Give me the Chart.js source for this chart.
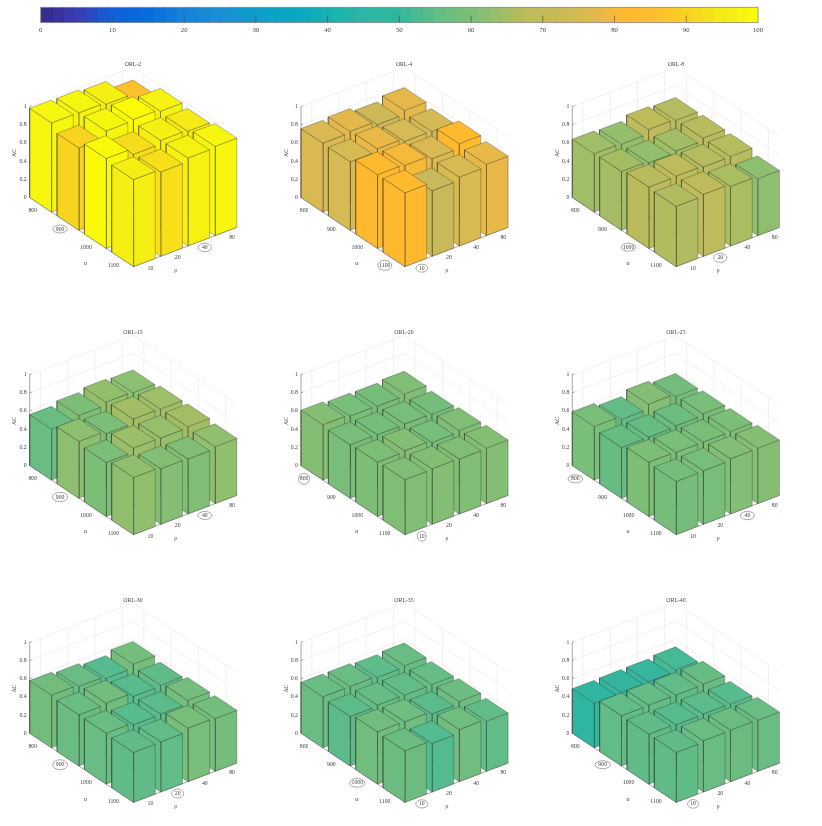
<!DOCTYPE html>
<html><head><meta charset="utf-8">
<style>
html,body{margin:0;padding:0;background:#fff;width:822px;height:826px;overflow:hidden}
canvas{position:absolute;display:block}
</style>
<script src="https://cdn.jsdelivr.net/npm/chart.js@4/dist/chart.umd.min.js"></script>
</head><body>
<script>
// ---- data (rows: alpha, columns: rho) ----
const alphaLabels = ["800","900","1000","1100"];
const rhoLabels   = ["10","20","40","80"];
const zTicks      = [0,0.2,0.4,0.6,0.8,1];
const barTicks    = [0,10,20,30,40,50,60,70,80,90,100];
const panelNames  = ["ORL-2","ORL-4","ORL-8","ORL-15","ORL-20","ORL-25","ORL-30","ORL-35","ORL-40"];

const orl2  = [[.98,.977,.958,.86],[.905,.978,.99,.967],[.988,.92,.96,.947],[.956,.927,.966,.98]];
const orl4  = [[.758,.773,.733,.777],[.753,.782,.749,.745],[.81,.799,.758,.81],[.811,.72,.756,.782]];
const orl8  = [[.641,.632,.681,.667],[.646,.628,.643,.672],[.674,.68,.667,.67],[.662,.68,.654,.625]];
const orl15 = [[.56,.597,.63,.62],[.625,.595,.643,.64],[.593,.637,.634,.645],[.628,.61,.603,.626]];
const orl20 = [[.608,.59,.586,.604],[.588,.584,.588,.584],[.597,.608,.585,.604],[.603,.61,.603,.609]];
const orl25 = [[.59,.553,.608,.579],[.559,.559,.569,.588],[.597,.59,.589,.594],[.584,.588,.606,.609]];
const orl30 = [[.579,.56,.535,.578],[.562,.577,.537,.548],[.56,.538,.542,.58],[.548,.551,.588,.58]];
const orl35 = [[.56,.56,.546,.56],[.544,.555,.551,.555],[.575,.571,.543,.568],[.566,.533,.573,.551]];
const orl40 = [[.49,.495,.498,.518],[.551,.555,.551,.559],[.549,.538,.543,.538],[.548,.562,.566,.561]];
const panelValues = [orl2,orl4,orl8,orl15,orl20,orl25,orl30,orl35,orl40];

// circled labels: alpha index, rho index
const circledAlpha = [1,3,2,1,0,0,1,2,1];
const circledRho   = [2,0,1,2,0,2,1,0,0];
// ellipse sizes in px: alpha w,h, rho w,h
const circleSizes = [[14.7,8,13.3,8.3],[14,10,11.7,8],[14.7,8,13.3,9],[15.3,9.3,14,8],[11,11,9,10],[14.7,8,14,8.3],[14.7,10,12,9],[15.3,8.7,12,8.3],[15.3,8,11,8.7]];

// colour map (value, colour)
const cmapStops = [[0,'#352a87'],[.05,'#3a3db0'],[.10,'#1060dc'],[.15,'#0a6ae0'],[.20,'#1a82d8'],[.25,'#1a90d2'],[.30,'#0c9ec8'],[.35,'#08a8c0'],[.40,'#14b2b2'],[.45,'#2cb6a2'],[.49,'#30b5a0'],[.52,'#48b994'],[.54,'#5abb8c'],[.56,'#68bc84'],[.58,'#74bd7c'],[.60,'#7ebe76'],[.625,'#8ebf70'],[.65,'#a8bd62'],[.68,'#bebb5c'],[.72,'#c8b95a'],[.75,'#d5ba55'],[.78,'#e6b84a'],[.81,'#ffb92e'],[.86,'#ffc030'],[.905,'#f8d420'],[.95,'#f5ec14'],[.98,'#f6f60e'],[1,'#ffff00']];

// ---- rendering settings ----
const SERIF = "'Liberation Serif','Times New Roman',serif";
const FS = 5.8, TXT = '#444';
const colLeft = [3,274,546], rowTop = [61,329,597];
const anchorX = [26.7,27,26.3], anchorY = [129.6,129.6,129.3];
const CW = 260, CH = 216, TITLE_H = FS*1.2;
const A0=.6, A1=4.4;
function proj(a,r,z){return {x:(a-A0)*27.33+(r-A0)*27.17, y:-(a-A0)*18.17+(r-A0)*10.33+z*91};}

function hex(c){return [1,3,5].map(i=>parseInt(c.substr(i,2),16));}
function colormap(v){
  v=Math.max(0,Math.min(1,v));
  for(let k=1;k<cmapStops.length;k++){
    if(v<=cmapStops[k][0]){
      const [v0,c0]=cmapStops[k-1],[v1,c1]=cmapStops[k];
      const t=(v-v0)/(v1-v0),p=hex(c0),q=hex(c1);
      return 'rgb('+p.map((x,i)=>Math.round(x+(q[i]-x)*t)).join(',')+')';
    }
  }
  return cmapStops[cmapStops.length-1][1];
}
function line(pts,color,w){
  return {data:pts,showLine:true,fill:false,borderColor:color,borderWidth:w,pointRadius:0,tension:0,clip:false};
}
function face(pts,color){
  return {data:pts.concat([pts[0]]),showLine:true,fill:'shape',backgroundColor:color,borderColor:'rgba(40,40,30,.52)',borderWidth:.6,borderJoinStyle:'miter',pointRadius:0,tension:0,clip:false};
}
function buildDatasets(values){
  const ds=[]; const G='#e7e7e7', GW=.6, AX='#6a6a6a';
  const ints=[1,2,3,4];
  // back walls and floor grid
  zTicks.forEach(z=>{
    ds.push(line([proj(A0,A0,z),proj(A0,A1,z)],G,GW));
    ds.push(line([proj(A0,A1,z),proj(A1,A1,z)],G,GW));
  });
  ints.forEach(r=>{
    ds.push(line([proj(A0,r,0),proj(A0,r,1)],G,GW));
    ds.push(line([proj(A0,r,0),proj(A1,r,0)],G,GW));
  });
  ints.forEach(a=>{
    ds.push(line([proj(a,A1,0),proj(a,A1,1)],G,GW));
    ds.push(line([proj(a,A0,0),proj(a,A1,0)],G,GW));
  });
  // axes and tick marks
  ds.push(line([proj(A0,A0,0),proj(A0,A0,1)],AX,.6));
  ds.push(line([proj(A0,A0,0),proj(A1,A0,0)],AX,.6));
  ds.push(line([proj(A1,A0,0),proj(A1,A1,0)],AX,.6));
  zTicks.forEach(z=>ds.push(line([proj(A0,A0,z),proj(A0,A0+.07,z)],AX,.6)));
  ints.forEach(a=>ds.push(line([proj(a,A0,0),proj(a,A0+.07,0)],AX,.6)));
  ints.forEach(r=>ds.push(line([proj(A1,r,0),proj(A1-.07,r,0)],AX,.6)));
  // bars, far to near
  for(let i=0;i<4;i++){
    for(let j=3;j>=0;j--){
      const h=values[i][j], c=colormap(h);
      const a0=i+.6,a1=i+1.4,r0=j+.6,r1=j+1.4;
      ds.push(face([proj(a1,r0,0),proj(a1,r1,0),proj(a1,r1,h),proj(a1,r0,h)],c));
      ds.push(face([proj(a0,r0,0),proj(a1,r0,0),proj(a1,r0,h),proj(a0,r0,h)],c));
      ds.push(face([proj(a0,r0,h),proj(a1,r0,h),proj(a1,r1,h),proj(a0,r1,h)],c));
    }
  }
  return ds.reverse(); // Chart.js paints the first dataset last
}
function labelPlugin(p){
  return {id:'labels'+p,afterDatasetsDraw(chart){
    const c=chart.ctx, X=chart.scales.x, Y=chart.scales.y;
    const px=q=>[X.getPixelForValue(q.x),Y.getPixelForValue(q.y)];
    c.save();
    c.fillStyle=TXT; c.font=FS+'px '+SERIF; c.textBaseline='middle';
    c.textAlign='right';
    zTicks.forEach(z=>{const [x,y]=px(proj(A0,A0,z)); c.fillText(String(z),x-3,y);});
    const ell=(cx,cy,w,h)=>{c.beginPath();c.ellipse(cx,cy,w/2,h/2,0,0,2*Math.PI);c.strokeStyle='#555';c.lineWidth=.5;c.stroke();};
    const S=circleSizes[p];
    alphaLabels.forEach((t,i)=>{
      const [x,y]=px(proj(i+1,A0,0)); const tx=x-3.5, ty=y+6;
      c.textAlign='right'; c.fillText(t,tx,ty);
      if(circledAlpha[p]===i) ell(tx-c.measureText(t).width/2,ty,S[0],S[1]);
    });
    rhoLabels.forEach((t,j)=>{
      const [x,y]=px(proj(A1,j+1,0)); const tx=x+3.2, ty=y+5.7;
      c.textAlign='left'; c.fillText(t,tx,ty);
      if(circledRho[p]===j) ell(tx+c.measureText(t).width/2,ty,S[2],S[3]);
    });
    const [lx,ly]=px(proj(A0,A0,0));
    c.textAlign='center';
    c.fillText('\u03b1',lx+55.7,ly+66);
    c.fillText('\u03c1',lx+146,ly+73.3);
    c.translate(lx-15,ly-44.7); c.rotate(-Math.PI/2);
    c.fillText('AC',0,0);
    c.restore();
  }};
}
function addCanvas(l,t,w,h){
  const cv=document.createElement('canvas');
  cv.width=w;cv.height=h;cv.style.left=l+'px';cv.style.top=t+'px';cv.style.width=w+'px';cv.style.height=h+'px';
  document.body.appendChild(cv);return cv;
}
Chart.defaults.animation=false;
Chart.defaults.devicePixelRatio=1;

panelNames.forEach((name,p)=>{
  const col=p%3,row=Math.floor(p/3);
  const cv=addCanvas(colLeft[col],rowTop[row],CW,CH);
  const xMin=-anchorX[col], yMax=anchorY[row];
  new Chart(cv,{
    type:'scatter',
    data:{datasets:buildDatasets(panelValues[p])},
    options:{
      responsive:false,events:[],
      layout:{padding:0},
      plugins:{
        legend:{display:false},tooltip:{enabled:false},
        title:{display:true,text:name,color:TXT,padding:0,font:{family:SERIF,size:FS,weight:'normal',lineHeight:1.2}}
      },
      scales:{
        x:{type:'linear',display:false,min:xMin,max:xMin+CW},
        y:{type:'linear',display:false,max:yMax,min:yMax-(CH-TITLE_H)}
      }
    },
    plugins:[labelPlugin(p)]
  });
});

// ---- colour bar ----
const nBands=64, bandDatasets=[];
for(let k=0;k<nBands;k++){
  bandDatasets.push({data:[100/nBands],backgroundColor:colormap((k+.5)/nBands),borderWidth:0,inflateAmount:1,barPercentage:1,categoryPercentage:1,stack:'s'});
}
const barCv=addCanvas(15,0,770,42);
new Chart(barCv,{
  type:'bar',
  data:{labels:['AC'],datasets:bandDatasets},
  options:{
    indexAxis:'y',responsive:false,events:[],
    layout:{padding:{left:25.7,right:27,top:7.3,bottom:4}},
    plugins:{legend:{display:false},tooltip:{enabled:false}},
    scales:{
      x:{type:'linear',stacked:true,min:0,max:100,
         grid:{display:false,drawTicks:false},border:{display:false},
         ticks:{stepSize:10,autoSkip:false,maxRotation:0,color:TXT,padding:4,font:{family:SERIF,size:6.7}}},
      y:{stacked:true,display:false}
    }
  },
  plugins:[{id:'barFrame',afterDatasetsDraw(chart){
    const c=chart.ctx,a=chart.chartArea,X=chart.scales.x;
    c.save();
    c.strokeStyle='#444';c.lineWidth=.6;
    barTicks.slice(1,-1).forEach(v=>{const x=X.getPixelForValue(v);c.beginPath();c.moveTo(x,a.bottom);c.lineTo(x,a.bottom-7);c.stroke();});
    c.strokeStyle='#888';c.lineWidth=.8;
    c.strokeRect(a.left,a.top,a.right-a.left,a.bottom-a.top);
    c.restore();
  }}]
});
</script>
</body></html>
